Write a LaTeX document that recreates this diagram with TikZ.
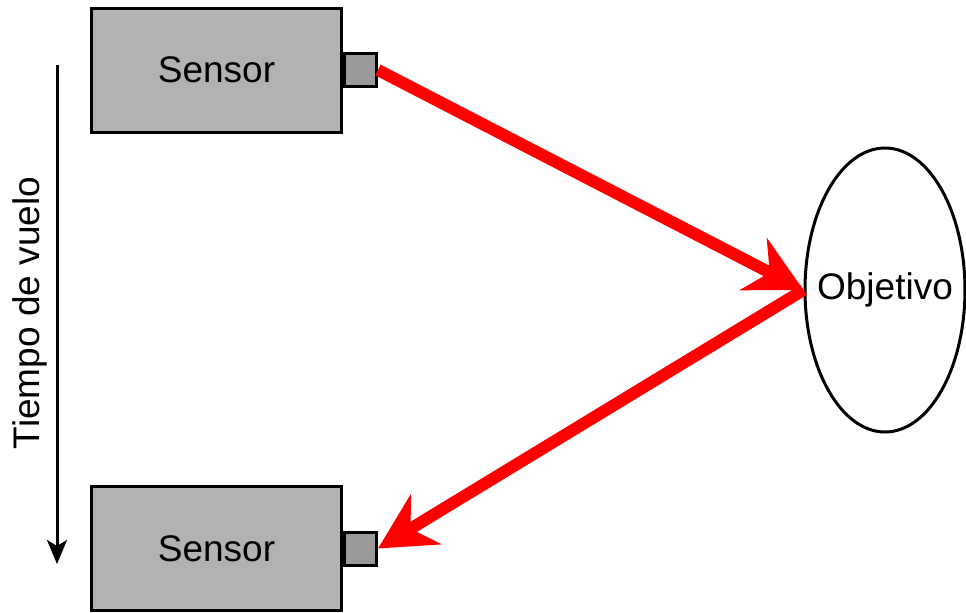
\documentclass[tikz,border=0pt]{standalone}
\usepackage{fontspec}
\setmainfont{Liberation Sans}
\usepackage{tikz}
\usetikzlibrary{arrows.meta,shapes.geometric,positioning}

\begin{document}
\begin{tikzpicture}[x=0.5pt,y=-0.5pt,
  sensorbox/.style={draw,line width=1.5pt,fill=black!30,minimum width=125pt,minimum height=62pt,inner sep=0pt,font=\fontsize{18.5}{22}\selectfont},
  lensbox/.style={draw,line width=1.5pt,fill=black!40,minimum width=16pt,minimum height=16.5pt,inner sep=0pt},
  ray/.style={red,line width=6pt,-{Stealth[length=28pt,width=29pt,inset=9pt]}}]
\useasboundingbox (0,0) rectangle (966,612);
% sensors
\node[sensorbox] (sensorA) at (216.5,70) {Sensor};
\node[lensbox,right=0pt of sensorA] (lensA) {};
\node[sensorbox] (sensorB) at (216.5,548.5) {Sensor};
\node[lensbox,right=0pt of sensorB] (lensB) {};
% target
\node[ellipse,draw,line width=1.5pt,minimum width=80pt,minimum height=142pt,inner sep=0pt,font=\fontsize{18.5}{22}\selectfont] (target) at (885,290) {\makebox[0pt]{Objetivo}};
% reflected rays
\draw[ray] (lensA.east) -- (target.west);
\draw[ray] (target.west) -- (lensB.east);
% time axis
\coordinate (tstart) at (57,65);
\coordinate (tend) at (57,564);
\draw[line width=1.5pt,-{Stealth[length=12pt,width=10pt,inset=3pt]}] (tstart) -- (tend);
\node[rotate=90,font=\fontsize{18.5}{22}\selectfont] (tlabel) at (30,313) {Tiempo de vuelo};
\end{tikzpicture}
\end{document}
